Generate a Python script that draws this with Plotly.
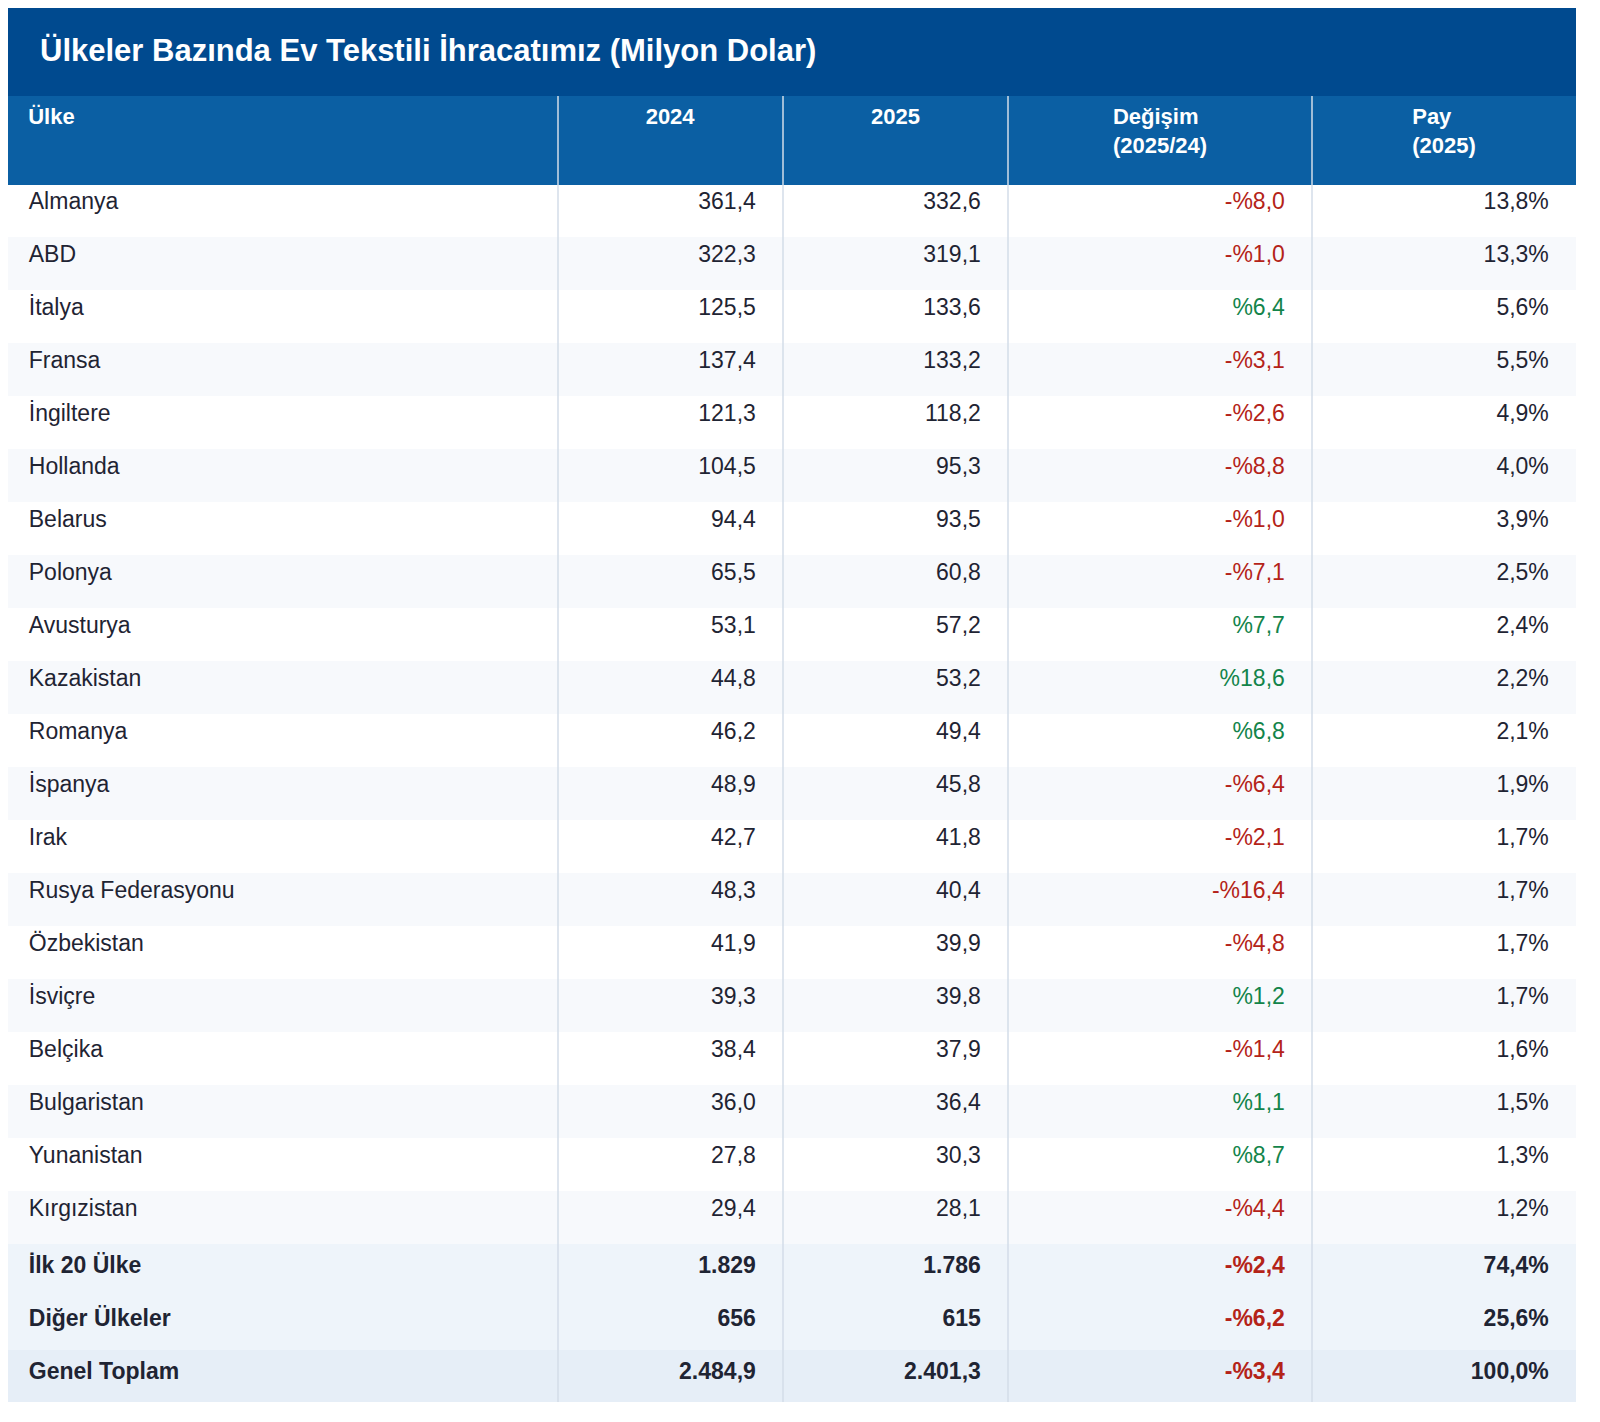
import plotly.graph_objects as go

W, H = 1568, 1394
TITLE_H, HEAD_H, ROW_H = 88, 88, 53

ulkeler = ["Almanya", "ABD", "İtalya", "Fransa", "İngiltere", "Hollanda", "Belarus",
           "Polonya", "Avusturya", "Kazakistan", "Romanya", "İspanya", "Irak",
           "Rusya Federasyonu", "Özbekistan", "İsviçre", "Belçika", "Bulgaristan",
           "Yunanistan", "Kırgızistan"]
y2024 = ["361,4", "322,3", "125,5", "137,4", "121,3", "104,5", "94,4", "65,5", "53,1", "44,8",
         "46,2", "48,9", "42,7", "48,3", "41,9", "39,3", "38,4", "36,0", "27,8", "29,4"]
y2025 = ["332,6", "319,1", "133,6", "133,2", "118,2", "95,3", "93,5", "60,8", "57,2", "53,2",
         "49,4", "45,8", "41,8", "40,4", "39,9", "39,8", "37,9", "36,4", "30,3", "28,1"]
degisim = ["-%8,0", "-%1,0", "%6,4", "-%3,1", "-%2,6", "-%8,8", "-%1,0", "-%7,1", "%7,7", "%18,6",
           "%6,8", "-%6,4", "-%2,1", "-%16,4", "-%4,8", "%1,2", "-%1,4", "%1,1", "%8,7", "-%4,4"]
pay = ["13,8%", "13,3%", "5,6%", "5,5%", "4,9%", "4,0%", "3,9%", "2,5%", "2,4%", "2,2%",
       "2,1%", "1,9%", "1,7%", "1,7%", "1,7%", "1,7%", "1,6%", "1,5%", "1,3%", "1,2%"]

ozet_ad = ["İlk 20 Ülke", "Diğer Ülkeler", "Genel Toplam"]
ozet_2024 = ["1.829", "656", "2.484,9"]
ozet_2025 = ["1.786", "615", "2.401,3"]
ozet_degisim = ["-%2,4", "-%6,2", "-%3,4"]
ozet_pay = ["74,4%", "25,6%", "100,0%"]

NB = "\u00a0"
b = lambda l: [f"<b>{s}</b>" for s in l]
sol = lambda l: [NB * 2 + s for s in l]
sag = lambda l: [s + NB * 3 for s in l]
cols = [sol(ulkeler + b(ozet_ad)), sag(y2024 + b(ozet_2024)), sag(y2025 + b(ozet_2025)),
        sag(degisim + b(ozet_degisim)), sag(pay + b(ozet_pay))]

n = len(ulkeler)
fills = ["#ffffff" if i % 2 == 0 else "#f7f9fc" for i in range(n)] + ["#eef4fa", "#eef4fa", "#e6eef7"]
KOYU = "#1f2433"
renk_degisim = [("#b42318" if s.startswith("-") else "#13844a") for s in degisim + ozet_degisim]
font_colors = [[KOYU] * len(fills)] * 3 + [renk_degisim, [KOYU] * len(fills)]

genislik = [550, 225, 225, 304, 264]
sinirlar = [0]
for g in genislik:
    sinirlar.append(sinirlar[-1] + g)

table_top = 1 - TITLE_H / H

fig = go.Figure(go.Table(
    columnwidth=genislik,
    domain=dict(x=[0, 1], y=[0, table_top]),
    header=dict(
        values=["<br>" + NB * 2 + "<b>Ülke</b>", "<br><b>2024</b>", "<br><b>2025</b>",
                "<b>Değişim<br>(2025/24)</b>", "<b>Pay<br>(2025)</b>"],
        fill_color="#0b5fa3", line_color="#0b5fa3",
        font=dict(color="white", size=22, family="Liberation Sans"),
        align=["left", "center", "center", "center", "center"],
        height=HEAD_H,
    ),
    cells=dict(
        values=cols,
        fill_color=[fills] * 5,
        line_color=[fills] * 5,
        font=dict(color=font_colors, size=23, family="Liberation Sans"),
        align=["left", "right", "right", "right", "right"],
        height=ROW_H,
    ),
))

shapes = [dict(type="rect", xref="paper", yref="paper", x0=0, x1=1, y0=table_top, y1=1,
               fillcolor="#004a8f", line_width=0, layer="below")]
for s in sinirlar[1:-1]:
    shapes.append(dict(type="line", xref="paper", yref="paper", x0=s / W, x1=s / W,
                       y0=0, y1=table_top, line=dict(color="#d3dde9", width=1.5)))

fig.update_layout(
    width=W, height=H,
    margin=dict(l=0, r=0, t=0, b=0),
    paper_bgcolor="white",
    shapes=shapes,
    annotations=[dict(text="<b>Ülkeler Bazında Ev Tekstili İhracatımız (Milyon Dolar)</b>",
                      xref="paper", yref="paper", x=30 / W, y=1 - 42 / H,
                      xanchor="left", yanchor="middle", showarrow=False,
                      font=dict(color="white", size=31, family="Liberation Sans"))],
)

fig.write_html("out.html")
